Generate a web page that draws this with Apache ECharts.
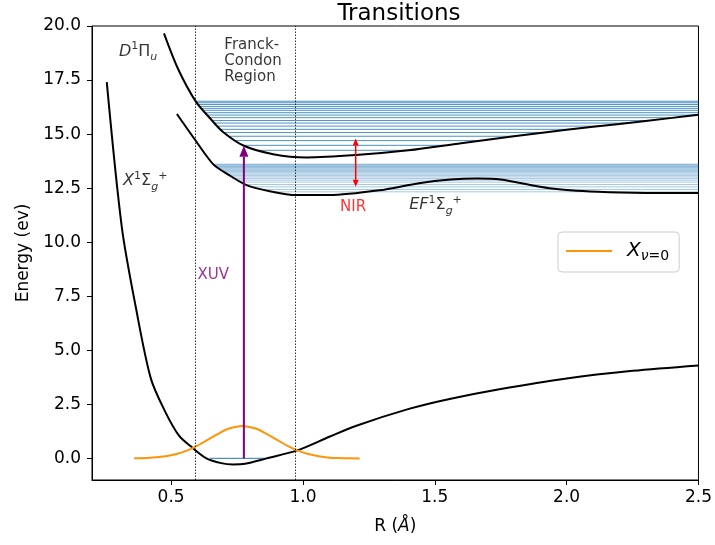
<!DOCTYPE html>
<html>
<head>
<meta charset="utf-8">
<script src="https://cdn.jsdelivr.net/npm/echarts@6/dist/echarts.min.js"></script>
<style>html,body{margin:0;padding:0;background:#fff}#c{width:715px;height:545px}</style>
</head>
<body>
<div id="c"></div>
<script>
// ---------- data ----------
const xTicks = [0.5, 1.0, 1.5, 2.0, 2.5];
const yTicks = [0, 2.5, 5, 7.5, 10, 12.5, 15, 17.5, 20];

// ground state X1Σg+
const xR = [0.256,0.313,0.366,0.423,0.476,0.53,0.58,0.634,0.69,0.735,0.78,0.862,0.978,1.1,1.2,1.405,1.556,1.745,2.0,2.25,2.5];
const xE = [17.4,10.7,7.0,3.7,2.2,1.05,0.5,0.0,-0.22,-0.28,-0.25,0.0,0.37,1.0,1.5,2.3,2.75,3.2,3.7,4.05,4.3];

// D1Πu
const dR = [0.473,0.527,0.594,0.65,0.697,0.776,0.887,1.013,1.2,1.4,1.6,1.8,2.0,2.2,2.4,2.5];
const dE = [19.66,18.0,16.5,15.7,15.1,14.46,14.07,13.92,14.03,14.25,14.58,14.9,15.2,15.47,15.75,15.9];

// EF1Σg+
const efR = [0.522,0.59,0.66,0.72,0.786,0.874,0.975,1.1,1.29,1.44,1.56,1.66,1.75,1.935,2.12,2.3,2.5];
const efE = [15.93,14.75,13.6,13.1,12.64,12.36,12.18,12.18,12.4,12.73,12.9,12.95,12.9,12.5,12.33,12.28,12.28];

// X v=0 wavefunction
const gaussR = [0.36,0.42,0.48,0.52,0.56,0.6,0.64,0.68,0.72,0.77,0.82,0.86,0.9,0.94,0.98,1.02,1.06,1.1,1.15,1.215];
const gaussV = [0.006,0.03,0.10,0.20,0.36,0.59,0.87,1.15,1.38,1.5,1.38,1.15,0.87,0.59,0.36,0.20,0.10,0.03,0.01,0.0];

// vibrational levels of D state: energy, left and right turning points
const dLevE     = [14.25,14.48,14.70,14.90,15.07,15.22,15.37,15.51,15.63,15.76,15.88,15.99,16.10,16.19,16.28,16.37,16.45,16.52];
const dLevLeft  = [0.836,0.774,0.746,0.722,0.701,0.688,0.676,0.665,0.656,0.646,0.637,0.630,0.622,0.616,0.609,0.603,0.598,0.593];
const dLevRight = [1.4,1.539,1.675,1.8,1.913,2.015,2.126,2.229,2.314,2.407,2.487,2.5,2.5,2.5,2.5,2.5,2.5,2.5];

// vibrational levels of EF state
const efLevE     = [12.33,12.44,12.56,12.67,12.78,12.87,12.95,13.02,13.09,13.15,13.21,13.27,13.32,13.37,13.42,13.46,13.50,13.54,13.58,13.61];
const efLevLeft  = [0.891,0.849,0.811,0.782,0.766,0.753,0.742,0.732,0.721,0.714,0.707,0.700,0.694,0.688,0.682,0.677,0.672,0.667,0.662,0.659];
const efLevRight = [2.5,2.5,2.5,2.5,2.5,2.5,2.5,2.5,2.5,2.5,2.5,2.5,2.5,2.5,2.5,2.5,2.5,2.5,2.5,2.5];

// ground vibrational level of X
const xLevE = [0.0];
const xLevLeft = [0.647];
const xLevRight = [0.862];

// Franck-Condon region bounds
const fcBounds = [0.59, 0.975];

// arrows: x, from, to
const xuvArrow = [0.776, 0.0, 14.46];
const nirArrow = [1.2, 12.56, 14.8];

// text annotations (data coordinates of anchor)
const annotations = [
  {x: 0.302, y: 18.8, text: '{i|D}{sup|1}{n|Π}{sub|u}', align: 'left'},
  {x: 0.318, y: 12.82, text: '{i|X}{sup|1}{n|Σ}{sub|g}{sup|+}', align: 'left'},
  {x: 1.403, y: 11.71, text: '{i|EF}{sup|1}{n|Σ}{sub|g}{sup|+}', align: 'left'},
  {x: 0.702, y: 18.37, text: 'Franck-\nCondon\nRegion', align: 'left', kind: 'plain'},
  {x: 0.66, y: 8.47, text: 'XUV', align: 'center', kind: 'xuv'},
  {x: 1.19, y: 11.62, text: 'NIR', align: 'center', kind: 'nir'}
];

// ---------- chart ----------
const FONT = 'DejaVu Sans';
const zip = (a, b) => a.map((v, i) => [v, b[i]]);
const levelData = (E, L, R) => E.map((e, i) => [L[i], R[i], e]);

const mathRich = {
  i: {fontFamily: FONT, fontStyle: 'italic', fontSize: 16, lineHeight: 22, color: '#000'},
  n: {fontFamily: FONT, fontSize: 16, lineHeight: 22, color: '#000'},
  sup: {fontFamily: FONT, fontSize: 11, lineHeight: 11, verticalAlign: 'top', color: '#000'},
  sub: {fontFamily: FONT, fontStyle: 'italic', fontSize: 11, lineHeight: 11, verticalAlign: 'bottom', color: '#000'}
};

const chart = echarts.init(document.getElementById('c'), null, {renderer: 'canvas'});

function levelRender(color, width, opacity) {
  return function (params, api) {
    const p1 = api.coord([api.value(0), api.value(2)]);
    const p2 = api.coord([api.value(1), api.value(2)]);
    return {type: 'line', shape: {x1: p1[0], y1: p1[1], x2: p2[0], y2: p2[1]},
      style: {stroke: color, lineWidth: width, opacity: opacity}};
  };
}

function arrowRender(color, lw, headW, headL, both) {
  return function (params, api) {
    const a = api.coord([api.value(0), api.value(1)]);
    const b = api.coord([api.value(0), api.value(2)]);
    const children = [];
    const yTop = b[1], yBot = a[1];
    const lineTop = yTop + headL;
    const lineBot = both ? yBot - headL : yBot;
    children.push({type: 'line', shape: {x1: a[0], y1: lineBot, x2: a[0], y2: lineTop}, style: {stroke: color, lineWidth: lw}});
    children.push({type: 'polygon', shape: {points: [[b[0], yTop], [b[0] - headW / 2, yTop + headL], [b[0] + headW / 2, yTop + headL]]}, style: {fill: color}});
    if (both) {
      children.push({type: 'polygon', shape: {points: [[a[0], yBot], [a[0] - headW / 2, yBot - headL], [a[0] + headW / 2, yBot - headL]]}, style: {fill: color}});
    }
    return {type: 'group', children: children};
  };
}

const curveStyle = {color: '#000', width: 2};
const curveCommon = {type: 'line', symbol: 'none', silent: true, z: 2, smooth: 0.3,
  lineStyle: curveStyle, itemStyle: {color: '#000'}};

const option = {
  animation: false,
  title: {
    text: 'Transitions', left: 394, top: -2, textAlign: 'center',
    textStyle: {fontFamily: FONT, fontSize: 23, fontWeight: 'normal', color: '#000'}
  },
  grid: {left: 92, right: 15, top: 26, bottom: 65, show: true, borderColor: '#000', borderWidth: 1, containLabel: false},
  legend: {
    data: [{name: 'X0', icon: 'rect'}],
    left: 558, top: 232,
    padding: [9, 10, 9, 8],
    itemWidth: 46, itemHeight: 2,
    backgroundColor: 'rgba(255,255,255,0.8)',
    borderColor: '#cccccc', borderWidth: 1, borderRadius: 4,
    formatter: function () { return '{x|X}{si|ν}{s|=0}'; },
    textStyle: {
      padding: [0, 0, 0, 10],
      rich: {
        x: {fontFamily: FONT, fontStyle: 'italic', fontSize: 20, lineHeight: 24, color: '#000'},
        si: {fontFamily: FONT, fontStyle: 'italic', fontSize: 14, lineHeight: 13, verticalAlign: 'bottom', color: '#000'},
        s: {fontFamily: FONT, fontSize: 14, lineHeight: 13, verticalAlign: 'bottom', color: '#000'}
      }
    }
  },
  xAxis: {
    type: 'value', min: 0.2, max: 2.5,
    splitLine: {show: false},
    axisLine: {show: true, onZero: false, lineStyle: {color: '#000', width: 1}},
    axisTick: {show: true, length: 5, customValues: xTicks, lineStyle: {color: '#000'}},
    axisLabel: {customValues: xTicks, formatter: v => v.toFixed(1), fontFamily: FONT, fontSize: 17, color: '#000', margin: 9},
    name: '{n|R (}{i|Å}{n|)}', nameLocation: 'middle', nameGap: 38,
    nameTextStyle: {rich: {
      n: {fontFamily: FONT, fontSize: 17, color: '#000'},
      i: {fontFamily: FONT, fontSize: 17, fontStyle: 'italic', color: '#000'}
    }}
  },
  yAxis: {
    type: 'value', min: -1, max: 20,
    splitLine: {show: false},
    axisLine: {show: true, onZero: false, lineStyle: {color: '#000', width: 1}},
    axisTick: {show: true, length: 5, customValues: yTicks, lineStyle: {color: '#000'}},
    axisLabel: {customValues: yTicks, formatter: v => v.toFixed(1), fontFamily: FONT, fontSize: 17, color: '#000', margin: 11},
    name: 'Energy (ev)', nameLocation: 'middle', nameGap: 60,
    nameTextStyle: {fontFamily: FONT, fontSize: 17, color: '#000'}
  },
  series: [
    {type: 'custom', name: 'dLevels', silent: true, z: 1, data: levelData(dLevE, dLevLeft, dLevRight),
      encode: {x: [0, 1], y: 2}, renderItem: levelRender('#1f77b4', 1, 0.8)},
    {type: 'custom', name: 'efLevels', silent: true, z: 1, data: levelData(efLevE, efLevLeft, efLevRight),
      encode: {x: [0, 1], y: 2}, renderItem: levelRender('#1f77b4', 0.7, 0.6)},
    {type: 'custom', name: 'xLevels', silent: true, z: 1, data: levelData(xLevE, xLevLeft, xLevRight),
      encode: {x: [0, 1], y: 2}, renderItem: levelRender('#1f77b4', 1.2, 0.8)},
    Object.assign({}, curveCommon, {name: 'X1', data: zip(xR, xE),
      markLine: {silent: true, symbol: 'none', label: {show: false}, lineStyle: {type: [1.5, 1.5], color: '#000', width: 0.8},
        data: fcBounds.map(v => ({xAxis: v}))}}),
    Object.assign({}, curveCommon, {name: 'D', data: zip(dR, dE)}),
    Object.assign({}, curveCommon, {name: 'EF', data: zip(efR, efE), smooth: 0.25}),
    {type: 'line', name: 'X0', data: zip(gaussR, gaussV), symbol: 'none', silent: true, z: 3, smooth: 0.3,
      lineStyle: {color: '#ff9408', width: 2}, itemStyle: {color: '#ff9408'}},
    {type: 'custom', name: 'xuv', silent: true, z: 4, data: [xuvArrow], encode: {x: 0, y: [1, 2]},
      renderItem: arrowRender('#800080', 2, 9, 11, false)},
    {type: 'custom', name: 'nir', silent: true, z: 4, data: [nirArrow], encode: {x: 0, y: [1, 2]},
      renderItem: arrowRender('#ff0000', 1.5, 6, 7, true)},
    {type: 'scatter', name: 'labels', silent: true, z: 5, symbolSize: 0,
      data: annotations.map(a => ({
        value: [a.x, a.y],
        label: {
          show: true, position: 'inside', align: a.align, verticalAlign: 'middle',
          formatter: a.text,
          fontFamily: FONT, fontSize: 15, lineHeight: 16,
          color: a.kind === 'xuv' ? '#800080' : (a.kind === 'nir' ? '#ff0000' : '#000'),
          rich: a.kind ? undefined : mathRich
        }
      }))}
  ]
};
chart.setOption(option);
</script>
</body>
</html>
